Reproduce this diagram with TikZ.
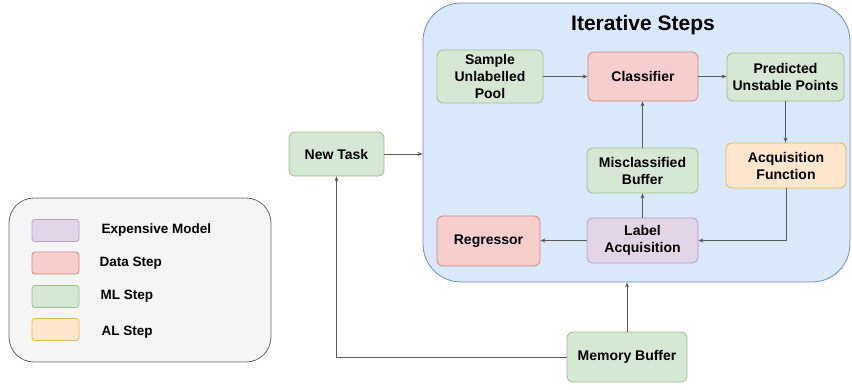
\documentclass[tikz,border=0pt]{standalone}
\usepackage{fontspec}
\setmainfont{Liberation Sans}
\usetikzlibrary{arrows.meta}
\definecolor{gfill}{HTML}{D5E8D4}\definecolor{gdraw}{HTML}{82B366}
\definecolor{rfill}{HTML}{F8CECC}\definecolor{rdraw}{HTML}{B85450}
\definecolor{pfill}{HTML}{E1D5E7}\definecolor{pdraw}{HTML}{9673A6}
\definecolor{ofill}{HTML}{FFE6CC}\definecolor{odraw}{HTML}{D79B00}
\definecolor{bfill}{HTML}{DAE8FC}\definecolor{bdraw}{HTML}{6C8EBF}
\definecolor{lfill}{HTML}{F5F5F5}\definecolor{ldraw}{HTML}{666666}
\definecolor{conn}{HTML}{5A5A5A}
\begin{document}
\begin{tikzpicture}[x=1pt,y=-1pt,
  box/.style={draw, rounded corners=6pt, line width=0.8pt, align=center,
    font=\fontsize{14}{17}\selectfont\bfseries, inner sep=2pt},
  gbox/.style={box, fill=gfill, draw=gdraw!80},
  rbox/.style={box, fill=rfill, draw=rdraw!70},
  pbox/.style={box, fill=pfill, draw=pdraw!70},
  obox/.style={box, fill=ofill, draw=odraw!70},
  swatch/.style={draw, rounded corners=3pt, line width=0.8pt, minimum width=47pt, minimum height=22pt},
  leglabel/.style={anchor=west, font=\fontsize{13.5}{16}\selectfont\bfseries},
  arr/.style={draw=conn, line width=0.9pt, -{Stealth[length=5pt,width=4pt]}}]
\useasboundingbox (0,0) rectangle (852,389);
% iterative box
\node[draw=bdraw, fill=bfill, line width=0.8pt, rounded corners=38pt, minimum width=427pt, minimum height=279pt, inner sep=0pt] (iter) at (636.5,142.5) {};
\node[font=\fontsize{21}{25}\selectfont\bfseries] (title) at (643,25) {Iterative Steps};
% legend
\node[draw=ldraw, fill=lfill, line width=0.8pt, rounded corners=25pt, minimum width=262pt, minimum height=164pt, inner sep=0pt] (legend) at (140,280) {};
\node[swatch, fill=pfill, draw=pdraw!70] (s1) at (55.5,230.5) {};
\node[swatch, fill=rfill, draw=rdraw!70] (s2) at (55.5,263) {};
\node[swatch, fill=gfill, draw=gdraw!80] (s3) at (55.5,296.5) {};
\node[swatch, fill=ofill, draw=odraw!70] (s4) at (55.5,329.5) {};
\node[leglabel] (l1) at (98,230.5) {Expensive Model};
\node[leglabel] (l2) at (96,263) {Data Step};
\node[leglabel] (l3) at (97,296.5) {ML Step};
\node[leglabel] (l4) at (98,332) {AL Step};
% nodes
\node[gbox, minimum width=106pt, minimum height=53pt] (sample) at (490,76.5) {Sample\\Unlabelled\\Pool};
\node[rbox, minimum width=110pt, minimum height=49pt] (clf) at (643,76.5) {Classifier};
\node[gbox, minimum width=117pt, minimum height=48pt] (pred) at (785.5,77) {Predicted\\Unstable Points};
\node[obox, minimum width=120pt, minimum height=45pt] (acqf) at (786,165.5) {Acquisition\\Function};
\node[gbox, minimum width=111pt, minimum height=45pt] (misc) at (642.5,170.5) {Misclassified\\Buffer};
\node[pbox, minimum width=111pt, minimum height=45pt] (label) at (642.5,240.5) {Label\\Acquisition};
\node[rbox, minimum width=103pt, minimum height=50pt] (reg) at (488.5,241) {Regressor};
\node[gbox, minimum width=95pt, minimum height=44pt] (newtask) at (336.5,154) {New Task};
\node[gbox, minimum width=120pt, minimum height=50pt] (mem) at (627,357) {Memory Buffer};
% connectors
\draw[arr] (sample.east) -- (sample.east -| clf.west);
\draw[arr] (clf.east) -- (clf.east -| pred.west);
\draw[arr] (pred.south) -- (pred.south |- acqf.north);
\draw[arr] (acqf.south) |- (label.east);
\draw[arr] (label.west) -- (label.west -| reg.east);
\draw[arr] (label.north) -- (misc.south);
\draw[arr] (misc.north) -- (misc.north |- clf.south);
\draw[arr] (newtask.east) -- (newtask.east -| iter.west);
\draw[arr] (mem.north) -- (mem.north |- iter.south);
\draw[arr] (mem.west) -| (newtask.south);
\end{tikzpicture}
\end{document}
